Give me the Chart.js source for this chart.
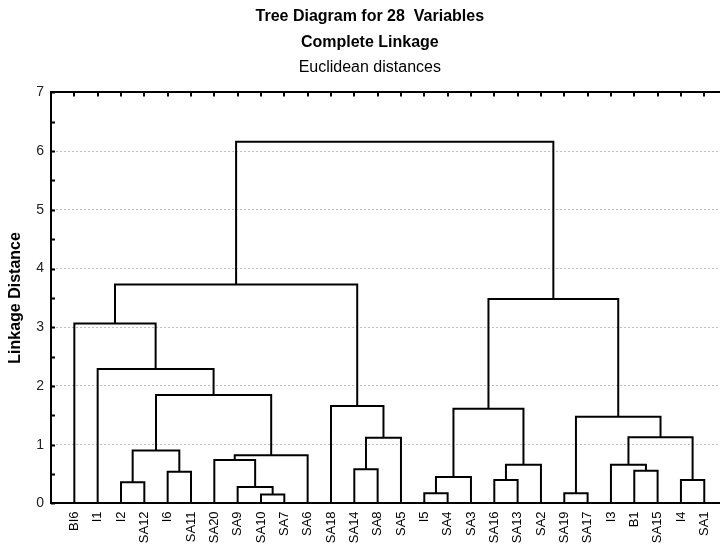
<!DOCTYPE html>
<html>
<head>
<meta charset="utf-8">
<title>Tree Diagram for 28 Variables</title>
<script src="https://cdn.jsdelivr.net/npm/chart.js@4"></script>
<style>
  html, body { margin: 0; padding: 0; background: #fff; overflow: hidden; }
  #tree { display: block; }
</style>
</head>
<body>
<canvas id="tree" width="740" height="560"></canvas>
<script>
  // leaf order along the bottom axis
  const leaves = [
    'BI6', 'I1', 'I2', 'SA12', 'I6', 'SA11', 'SA20', 'SA9', 'SA10', 'SA7',
    'SA6', 'SA18', 'SA14', 'SA8', 'SA5', 'I5', 'SA4', 'SA3', 'SA16', 'SA13',
    'SA2', 'SA19', 'SA17', 'I3', 'B1', 'SA15', 'I4', 'SA1'
  ];

  // linkage steps: node 28 + k joins joinA[k] and joinB[k] at joinHeight[k]
  const joinA = [8, 15, 21, 7, 2, 18, 26, 29, 4, 24, 12, 33, 23, 6, 41, 32, 38, 40, 30, 35, 11, 43, 1, 0, 47, 51, 53];
  const joinB = [9, 16, 22, 28, 3, 19, 27, 17, 5, 25, 13, 20, 37, 31, 10, 36, 14, 34, 45, 39, 44, 42, 49, 50, 46, 48, 52];
  const joinHeight = [0.15, 0.175, 0.175, 0.28, 0.36, 0.40, 0.40, 0.45, 0.54, 0.555, 0.58, 0.66, 0.66,
                      0.74, 0.82, 0.90, 1.12, 1.125, 1.475, 1.61, 1.66, 1.845, 2.29, 3.065, 3.48, 3.73, 6.16];

  const yTicks = [0, 1, 2, 3, 4, 5, 6, 7];

  // node positions: leaves sit on their index, clusters midway between children
  const pos = leaves.map((_, i) => i);
  const hgt = leaves.map(() => 0);
  const links = [];
  joinA.forEach((a, k) => {
    const b = joinB[k];
    const h = joinHeight[k];
    pos.push((pos[a] + pos[b]) / 2);
    hgt.push(h);
    links.push({
      data: [
        { x: pos[a], y: hgt[a] },
        { x: pos[a], y: h },
        { x: pos[b], y: h },
        { x: pos[b], y: hgt[b] }
      ],
      showLine: true,
      borderColor: '#000',
      borderWidth: 2,
      pointRadius: 0,
      fill: false
    });
  });

  // short inward tick marks on the left and top frame
  const innerTicks = {
    id: 'innerTicks',
    afterDraw(chart) {
      const { ctx, chartArea, scales } = chart;
      ctx.save();
      ctx.strokeStyle = '#000';
      ctx.lineWidth = 2;
      ctx.beginPath();
      scales.y.ticks.forEach(t => {
        const py = Math.round(scales.y.getPixelForValue(t.value)) + 0.5;
        ctx.moveTo(chartArea.left, py);
        ctx.lineTo(chartArea.left + 4, py);
      });
      leaves.forEach((_, i) => {
        const px = Math.round(scales.x.getPixelForValue(i));
        ctx.moveTo(px, chartArea.top);
        ctx.lineTo(px, chartArea.top + 4);
      });
      ctx.stroke();
      ctx.restore();
    }
  };

  Chart.defaults.font.family = '"Liberation Sans", Arial, sans-serif';

  new Chart(document.getElementById('tree'), {
    type: 'scatter',
    data: { datasets: links },
    options: {
      responsive: false,
      animation: false,
      layout: { padding: { left: 12, right: 12.4, top: 0, bottom: 0 } },
      plugins: {
        legend: { display: false },
        tooltip: { enabled: false },
        title: {
          display: true,
          text: ['Tree Diagram for 28  Variables', 'Complete Linkage'],
          color: '#000',
          font: { size: 16, weight: 'bold', lineHeight: 1.625 },
          padding: { top: 4, bottom: 2 }
        },
        subtitle: {
          display: true,
          text: 'Euclidean distances',
          color: '#000',
          font: { size: 16, weight: 'normal', lineHeight: 1.25 },
          padding: { top: 0, bottom: 14.4 }
        }
      },
      scales: {
        x: {
          type: 'linear',
          position: 'bottom',
          min: -1,
          max: 28,
          grid: { display: false, drawTicks: false },
          border: { display: true, color: '#000', width: 2 },
          ticks: {
            stepSize: 1,
            autoSkip: false,
            maxRotation: 90,
            minRotation: 90,
            padding: 8,
            color: '#000',
            font: { size: 13 },
            callback: v => leaves[Math.round(v)] ?? ''
          },
          afterFit: s => {
            s.height = 56.6;
            s.paddingLeft = 0;
            s.paddingRight = 0;
          }
        },
        x2: {
          type: 'linear',
          position: 'top',
          min: -1,
          max: 28,
          grid: { display: false, drawTicks: false },
          border: { display: true, color: '#000', width: 2 },
          ticks: { display: false },
          afterFit: s => {
            s.height = 0;
            s.paddingLeft = 0;
            s.paddingRight = 0;
          }
        },
        y: {
          type: 'linear',
          min: 0,
          max: 7,
          grid: {
            drawTicks: false,
            lineWidth: 1,
            color: c => {
              const v = c.tick ? c.tick.value : -1;
              return (Number.isInteger(v) && v > 0 && v < 7) ? '#bdbdbd' : 'rgba(0,0,0,0)';
            }
          },
          border: { display: true, color: '#000', width: 2, dash: [2, 2] },
          ticks: {
            stepSize: 0.25,
            padding: 7,
            color: '#222',
            font: { size: 14 },
            callback: v => yTicks.includes(v) ? String(v) : ''
          },
          title: {
            display: true,
            text: 'Linkage Distance',
            color: '#000',
            font: { size: 16, weight: 'bold', lineHeight: 1.2 },
            padding: { top: -6, bottom: 0 }
          },
          afterFit: s => { s.width = 39; }
        }
      }
    },
    plugins: [innerTicks]
  });
</script>
</body>
</html>
